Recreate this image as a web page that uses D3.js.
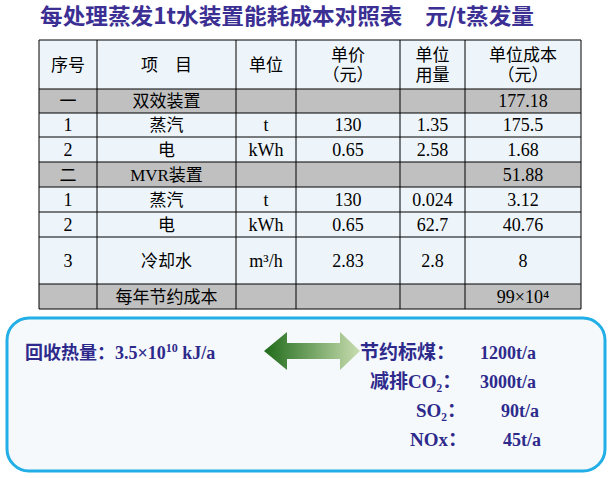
<!DOCTYPE html>
<html><head><meta charset="utf-8">
<script src="https://cdn.jsdelivr.net/npm/d3@7"></script>
<style>
body{margin:0;background:#fff;}
text{font-family:"Liberation Serif","Noto Sans CJK SC",serif;}
</style></head><body><div id="chart"></div>
<script>
const headers = [['序号'], ['项　目'], ['单位'], ['单价', '（元）'], ['单位', '用量'], ['单位成本', '（元）']];
const seqs = ['一', '1', '2', '二', '1', '2', '3', '每年节约成本'];
const items = ['双效装置', '蒸汽', '电', 'MVR装置', '蒸汽', '电', '冷却水', ''];
const units = ['', 't', 'kWh', '', 't', 'kWh', 'm³/h', ''];
const prices = ['', '130', '0.65', '', '130', '0.65', '2.83', ''];
const usages = ['', '1.35', '2.58', '', '0.024', '62.7', '2.8', ''];
const costs = ['177.18', '175.5', '1.68', '51.88', '3.12', '40.76', '8', '99×10⁴'];
const grayRows = [0, 3, 7];
const savings = [['节约标煤：', '1200t/a'], ['减排CO₂：', '3000t/a'], ['SO₂：', '90t/a'], ['NOx：', '45t/a']];

const W = 616, H = 478;
const svg = d3.select('#chart').append('svg').attr('width', W).attr('height', H);

svg.append('text').attr('x', 40).attr('y', 24)
  .attr('fill', '#3b2f94').attr('font-size', 22).attr('font-weight', 'bold')
  .attr('textLength', 494).attr('lengthAdjust', 'spacingAndGlyphs')
  .style('font-family', '"Noto Sans CJK SC",sans-serif')
  .text('每处理蒸发1t水装置能耗成本对照表　元/t蒸发量');

// column and row edges
const colEdges = [39, 97, 236, 296, 400, 465, 581];
const rowEdges = [40, 89, 113, 137, 162, 187, 212, 237, 284, 309];
const y = d3.scaleOrdinal().domain(d3.range(9)).range(rowEdges.slice(0, 9));

const g = svg.append('g');
d3.range(9).forEach(r => {
  g.append('rect').attr('x', colEdges[0]).attr('y', y(r))
    .attr('width', colEdges[6] - colEdges[0]).attr('height', rowEdges[r + 1] - rowEdges[r])
    .attr('fill', grayRows.includes(r - 1) ? '#c0c0c0' : '#eef5fa');
});
rowEdges.forEach(v => g.append('line').attr('x1', colEdges[0]).attr('x2', colEdges[6]).attr('y1', v).attr('y2', v).attr('stroke', '#000'));
colEdges.forEach(v => g.append('line').attr('x1', v).attr('x2', v).attr('y1', rowEdges[0]).attr('y2', rowEdges[9]).attr('stroke', '#000'));

const cx = c => (colEdges[c] + colEdges[c + 1]) / 2;
headers.forEach((h, c) => {
  const mid = (rowEdges[0] + rowEdges[1]) / 2;
  h.forEach((t, i) => {
    g.append('text').attr('x', cx(c)).attr('y', mid + 6 + (i - (h.length - 1) / 2) * 20)
      .attr('text-anchor', 'middle').attr('font-size', 17)
      .style('font-family', '"Noto Sans CJK SC",sans-serif').text(t);
  });
});

const cols = [seqs, items, units, prices, usages, costs];
seqs.forEach((_, r) => {
  const mid = (rowEdges[r + 1] + rowEdges[r + 2]) / 2;
  cols.forEach((col, c) => {
    const t = col[r];
    if (!t) return;
    let xx = cx(c);
    if (c === 0 && r === 7) xx = cx(1);
    const cjk = /[\u4e00-\u9fff]/.test(t);
    g.append('text').attr('x', xx).attr('y', mid + 6)
      .attr('text-anchor', 'middle').attr('font-size', cjk ? 17 : 18).attr('fill', '#000')
      .style('font-family', cjk && t !== 'MVR装置' ? '"Noto Sans CJK SC",sans-serif' : null).text(t);
  });
});

// bottom box
svg.append('rect').attr('x', 7).attr('y', 318).attr('width', 598).attr('height', 153)
  .attr('rx', 22).attr('fill', '#f5f9fc').attr('stroke', '#22aee6').attr('stroke-width', 3);

const purple = '#2e2a8c';
const left = svg.append('text').attr('x', 25).attr('y', 359).attr('fill', purple)
  .attr('font-size', 18).attr('font-weight', 'bold');
left.append('tspan').style('font-family', '"Noto Sans CJK SC",sans-serif').text('回收热量：');
left.append('tspan').text('3.5×10');
left.append('tspan').attr('font-size', 12).attr('dy', -7).text('10');
left.append('tspan').attr('dy', 7).text(' kJ/a');

const grad = svg.append('defs').append('linearGradient').attr('id', 'ag');
grad.append('stop').attr('offset', '0%').attr('stop-color', '#1f6b1a');
grad.append('stop').attr('offset', '100%').attr('stop-color', '#c9ddb0');
svg.append('path').attr('fill', 'url(#ag)')
  .attr('d', 'M264,351 L287,332 L287,343 L340,343 L340,332 L360,351 L340,370 L340,359 L287,359 L287,370 Z');

const rightX = [536, 536, 539, 541];
const labelX = [360, 370, 416, 410];
savings.forEach((s, i) => {
  const yy = 359 + i * 29;
  const t = svg.append('text').attr('x', labelX[i]).attr('y', yy).attr('fill', purple)
    .attr('font-size', 19).attr('font-weight', 'bold');
  t.append('tspan').text(s[0]);
  svg.append('text').attr('x', rightX[i]).attr('y', yy).attr('text-anchor', 'end').attr('fill', purple)
    .attr('font-size', 18).attr('font-weight', 'bold').text(s[1]);
});
</script></body></html>
